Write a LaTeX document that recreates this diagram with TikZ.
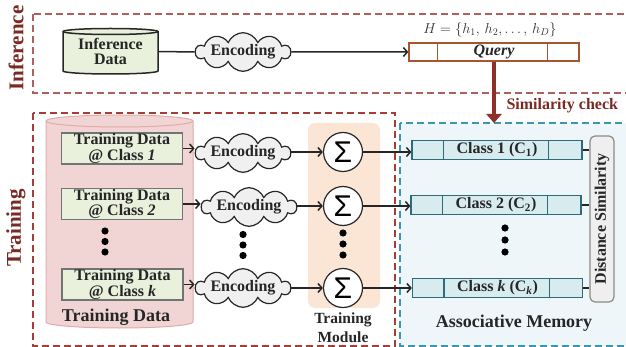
\documentclass[tikz,border=0pt]{standalone}
\usepackage{fontspec}
\setmainfont{Liberation Serif}
\newfontfamily\sigmafont{Liberation Sans}
\usetikzlibrary{shapes.symbols,arrows.meta}
\definecolor{labred}{HTML}{7A2A22}
\definecolor{infdash}{HTML}{B0605A}
\definecolor{trdash}{HTML}{A83C36}
\definecolor{memdash}{HTML}{3A98AE}
\definecolor{memfill}{HTML}{EEF6FA}
\definecolor{clsfill}{HTML}{D8ECF0}
\definecolor{clsdraw}{HTML}{2D6B78}
\definecolor{qdraw}{HTML}{A8552F}
\definecolor{simred}{HTML}{8B3128}
\definecolor{modfill}{HTML}{FBE6D6}
\definecolor{cylfill}{HTML}{F1D5D5}
\definecolor{cyldraw}{HTML}{E2AAAA}
\definecolor{grfill}{HTML}{E9F0DC}
\definecolor{cloudfill}{HTML}{F0F0F0}
\definecolor{dsfill}{HTML}{EFEFEF}
\definecolor{dsdraw}{HTML}{8A8A8A}
\begin{document}
\begin{tikzpicture}[x=1pt,y=-1pt,
  lab/.style={font=\fontsize{16}{14.5}\selectfont\bfseries, text=black!85},
  sidelab/.style={font=\fontsize{21}{21}\selectfont\bfseries, text=labred, rotate=90},
  biglab/.style={font=\fontsize{18}{18}\selectfont\bfseries, text=black!85},
  dashbox/.style={line width=1.2pt, dash pattern=on 7pt off 4pt},
  cloudbox/.style={cloud, cloud puffs=10, cloud puff arc=135, cloud ignores aspect,
     draw=black!85, fill=cloudfill, line width=1.2pt, minimum width=95pt,
     minimum height=38pt, inner sep=0pt, lab},
  tdbox/.style={draw=black!55, fill=grfill, line width=1.6pt, minimum width=121pt,
     minimum height=31pt, inner sep=0pt, align=center, lab},
  sigbox/.style={circle, draw=black!85, fill=white, line width=1.2pt, minimum size=39pt,
     inner sep=0pt, font=\sigmafont\fontsize{30}{30}\selectfont},
  clsbox/.style={draw=clsdraw, fill=clsfill, line width=1.2pt, minimum width=170pt,
     minimum height=19pt, inner sep=0pt, lab},
  arr/.style={line width=1.5pt, draw=black!85, -{Straight Barb[length=4pt,width=9pt,line width=1.5pt]}},
  conn/.style={line width=1.5pt, draw=black!85},
  dot/.style={fill=black}
]
\useasboundingbox (0,0) rectangle (626,347);

% regions
\draw[dashbox, draw=infdash] (33,14) rectangle (640,93);
\draw[dashbox, draw=memdash, fill=memfill] (400,123) rectangle (640,346);
\draw[dashbox, draw=trdash] (33,113) rectangle (395,346);
\fill[modfill, rounded corners=7pt] (308,123) rectangle (380,308);

\node[sidelab] (inflab) at (16,48) {Inference};
\node[sidelab] (trlab) at (16,228) {Training};

% training data cylinder
\filldraw[fill=cylfill, draw=cyldraw, line width=1pt]
  (46,121) -- (46,322) arc[start angle=180, end angle=0, x radius=73.5, y radius=6]
  -- (193,121) arc[start angle=0, end angle=-180, x radius=73.5, y radius=6] -- cycle;
\draw[draw=cyldraw, line width=1pt] (46,121) arc[start angle=180, end angle=0, x radius=73.5, y radius=6];
\node[biglab] (tdlab) at (116,317) {Training Data};

% inference data cylinder
\filldraw[fill=grfill, draw=black!85, line width=1.5pt]
  (63,31.5) -- (63,71) arc[start angle=180, end angle=0, x radius=47.5, y radius=3]
  -- (158,31.5) arc[start angle=0, end angle=-180, x radius=47.5, y radius=3] -- cycle;
\draw[draw=black!85, line width=1.5pt] (63,31.5) arc[start angle=180, end angle=0, x radius=47.5, y radius=3];
\node[lab, align=center, minimum width=95pt, minimum height=40pt, inner sep=0pt] (idata) at (110.5,51.5) {Inference\\Data};

% inference path
\node[cloudbox] (ienc) at (243,52) {Encoding};
\node[draw=qdraw, line width=1.3pt, fill=white, minimum width=170pt, minimum height=18pt,
  inner sep=0pt, lab] (query) at (494,52) {\textit{Query}};
\draw[draw=qdraw, line width=1.3pt] ([xshift=29pt]query.north west) -- ([xshift=29pt]query.south west);
\draw[draw=qdraw, line width=1.3pt] ([xshift=-32pt]query.north east) -- ([xshift=-32pt]query.south east);
\node[font=\fontsize{14}{14}\selectfont, text=black!80] (hlab) at (490,30) {$H=\{h_1,\,h_2,\ldots,\,h_D\}$};
\draw[conn] (idata.east) -- (ienc.west);
\draw[arr] (ienc.east) -- (query.west);

% similarity check
\coordinate (memtop) at (494,123);
\draw[simred, line width=4pt, -{Triangle[length=9pt,width=15pt]}] (query.south) -- (memtop);
\node[lab, text=labred, anchor=west] (simlab) at (503,106) {Similarity check};

% training rows
\node[tdbox] (td1) at (122,148.5) {Training Data\\@ Class \textit{1}};
\node[tdbox] (td2) at (122,204) {Training Data\\@ Class \textit{2}};
\node[tdbox] (tdk) at (122.5,284.5) {Training Data\\@ Class \textit{k}};

\node[cloudbox] (enc1) at (243,153) {Encoding};
\node[cloudbox] (enc2) at (249,207) {Encoding};
\node[cloudbox] (enck) at (243,288) {Encoding};

\node[sigbox] (s1) at (343,152) {Σ};
\node[sigbox] (s2) at (343,206) {Σ};
\node[sigbox] (sk) at (343,288) {Σ};
\node[lab, align=center, font=\fontsize{15.5}{19}\selectfont\bfseries] (tmlab) at (343,328) {Training\\Module};

\node[clsbox] (c1) at (497,150) {Class 1 (C\textsubscript{1})};
\node[clsbox] (c2) at (496,205) {Class 2 (C\textsubscript{2})};
\node[clsbox] (ck) at (497.5,288) {Class \textit{k} (C\textsubscript{\textit{k}})};
\foreach \c in {c1,c2,ck}{
  \draw[draw=clsdraw, line width=1.2pt] ([xshift=32pt]\c.north west) -- ([xshift=32pt]\c.south west);
  \draw[draw=clsdraw, line width=1.2pt] ([xshift=-34pt]\c.north east) -- ([xshift=-34pt]\c.south east);
}
\node[draw=dsdraw, fill=dsfill, line width=1.2pt, rounded corners=5pt, rotate=90,
  minimum width=166pt, minimum height=24pt, inner sep=0pt, lab] (ds) at (602,219) {Distance Similarity};
\node[biglab] (amlab) at (514,323) {Associative Memory};

\draw[arr] (td1.east) -- (enc1.west |- td1.east);
\draw[arr] (td2.east) -- (enc2.west |- td2.east);
\draw[arr] (tdk.east) -- (enck.west |- tdk.east);
\draw[arr] (enc1.east |- s1.west) -- (s1.west);
\draw[arr] (enc2.east |- s2.west) -- (s2.west);
\draw[arr] (enck.east |- sk.west) -- (sk.west);
\draw[arr] (s1.east) -- (s1.east -| c1.west);
\draw[arr] (s2.east) -- (s2.east -| c2.west);
\draw[arr] (sk.east) -- (sk.east -| ck.west);
\draw[conn] (c1.east) -- (c1.east -| ds.north);
\draw[conn] (c2.east) -- (c2.east -| ds.north);
\draw[conn] (ck.east) -- (ck.east -| ds.north);

% dots
\foreach \y in {231,241.5,252} \fill[dot] (105,\y) circle (3.6pt);
\foreach \y in {234.5,245,255.5} \fill[dot] (243,\y) circle (3.6pt);
\foreach \y in {233,244,255} \fill[dot] (343,\y) circle (3.6pt);
\foreach \y in {228,240,252} \fill[dot] (505,\y) circle (3.6pt);
\end{tikzpicture}
\end{document}
